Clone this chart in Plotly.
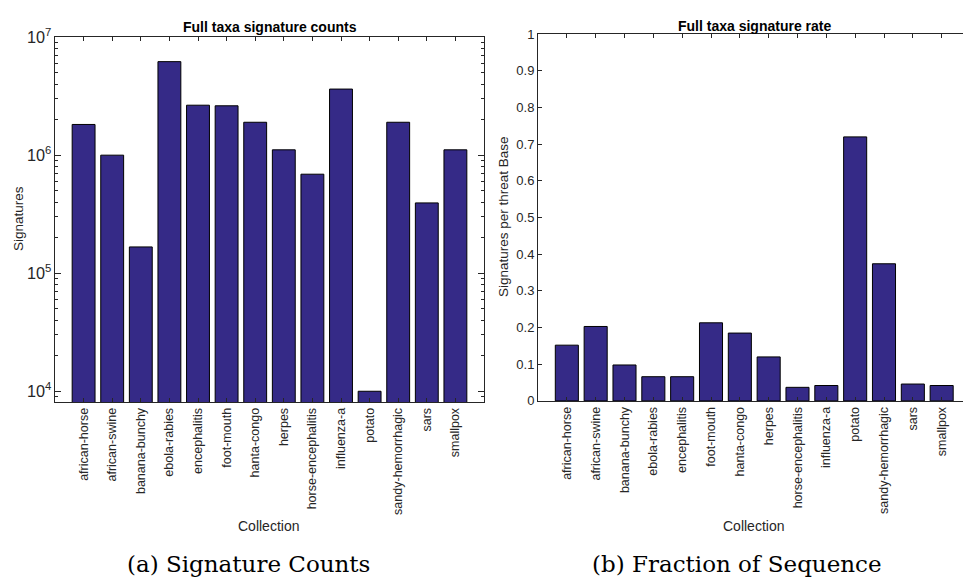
import plotly.graph_objects as go

categories = ["african-horse", "african-swine", "banana-bunchy", "ebola-rabies",
              "encephalitis", "foot-mouth", "hanta-congo", "herpes",
              "horse-encephalitis", "influenza-a", "potato", "sandy-hemorrhagic",
              "sars", "smallpox"]
counts = [1.82e6, 1.0e6, 1.67e5, 6.2e6, 2.65e6, 2.62e6, 1.9e6, 1.11e6,
          6.9e5, 3.63e6, 1.0e4, 1.9e6, 3.94e5, 1.11e6]
rates = [0.152, 0.203, 0.098, 0.066, 0.066, 0.213, 0.185, 0.12,
         0.037, 0.042, 0.72, 0.374, 0.046, 0.042]
rate_ticks = [0, 0.1, 0.2, 0.3, 0.4, 0.5, 0.6, 0.7, 0.8, 0.9, 1]

W, H = 963, 585
BAR = "#352A87"
FONT = "Liberation Sans, Arial, sans-serif"
TXT = "#262626"

fig = go.Figure()
idx = list(range(len(categories)))
fig.add_trace(go.Bar(x=idx, y=counts, width=0.8, marker=dict(color=BAR, line=dict(color="black", width=1)),
                     xaxis="x", yaxis="y", showlegend=False))
fig.add_trace(go.Bar(x=idx, y=rates, width=0.8, marker=dict(color=BAR, line=dict(color="black", width=1)),
                     xaxis="x2", yaxis="y2", showlegend=False))

def px(v, total):
    return v / total

axis_common = dict(showgrid=False, zeroline=False, showline=True, linecolor="#262626", linewidth=1,
                   ticks="inside", ticklen=4, tickcolor="#262626",
                   tickfont=dict(family=FONT, size=13, color=TXT))

fig.update_layout(
    width=W, height=H, margin=dict(l=0, r=0, t=0, b=0),
    paper_bgcolor="white", plot_bgcolor="white", bargap=0.2,
    xaxis=dict(axis_common, domain=[px(55, W), px(484, W)], anchor="y",
               range=[-1, 14], tickmode="array", tickvals=idx, ticktext=categories,
               tickangle=-90, mirror="ticks", tickfont=dict(family=FONT, size=12.5, color=TXT)),
    yaxis=dict(axis_common, domain=[1 - 404 / H, 1 - 27 / H], anchor="x",
               type="log", range=[3.91, 7], dtick=1, exponentformat="power",
               mirror="ticks", ticklen=6,
               minor=dict(ticks="inside", ticklen=3, tickcolor="#262626", showgrid=False)),
    xaxis2=dict(axis_common, domain=[px(538, W), 1.0], anchor="y2",
                range=[-1, 13.74], tickmode="array", tickvals=idx, ticktext=categories,
                tickangle=-90, mirror="ticks", tickfont=dict(family=FONT, size=12.5, color=TXT)),
    yaxis2=dict(axis_common, domain=[1 - 403 / H, 1 - 24 / H], anchor="x2",
                range=[0, 1], tickmode="array", tickvals=rate_ticks,
                ticktext=[("%g" % v) for v in rate_ticks], mirror=False),
)

ann = []
ann.append(dict(text="<b>Full taxa signature counts</b>", x=270 / W, y=1 - 17 / H, xref="paper", yref="paper",
                showarrow=False, font=dict(family=FONT, size=14, color="black"), xanchor="center", yanchor="middle"))
ann.append(dict(text="<b>Full taxa signature rate</b>", x=754 / W, y=1 - 15 / H, xref="paper", yref="paper",
                showarrow=False, font=dict(family=FONT, size=14, color="black"), xanchor="center", yanchor="middle"))
ann.append(dict(text="Signatures", x=18 / W, y=1 - 215 / H, xref="paper", yref="paper", textangle=-90,
                showarrow=False, font=dict(family=FONT, size=13.5, color=TXT), xanchor="center", yanchor="middle"))
ann.append(dict(text="Signatures per threat Base", x=503 / W, y=1 - 213 / H, xref="paper", yref="paper", textangle=-90,
                showarrow=False, font=dict(family=FONT, size=13.5, color=TXT), xanchor="center", yanchor="middle"))
ann.append(dict(text="Collection", x=268 / W, y=1 - 532 / H, xref="paper", yref="paper",
                showarrow=False, font=dict(family=FONT, size=14, color=TXT), xanchor="center", yanchor="middle"))
ann.append(dict(text="Collection", x=753 / W, y=1 - 532 / H, xref="paper", yref="paper",
                showarrow=False, font=dict(family=FONT, size=14, color=TXT), xanchor="center", yanchor="middle"))
ann.append(dict(text="(a) Signature Counts", x=248 / W, y=1 - 572 / H, xref="paper", yref="paper",
                showarrow=False, font=dict(family="DejaVu Serif, serif", size=23, color="black"), xanchor="center", yanchor="middle"))
ann.append(dict(text="(b) Fraction of Sequence", x=737 / W, y=1 - 572 / H, xref="paper", yref="paper",
                showarrow=False, font=dict(family="DejaVu Serif, serif", size=23, color="black"), xanchor="center", yanchor="middle"))
fig.update_layout(annotations=ann)

fig.write_html("out.html")
